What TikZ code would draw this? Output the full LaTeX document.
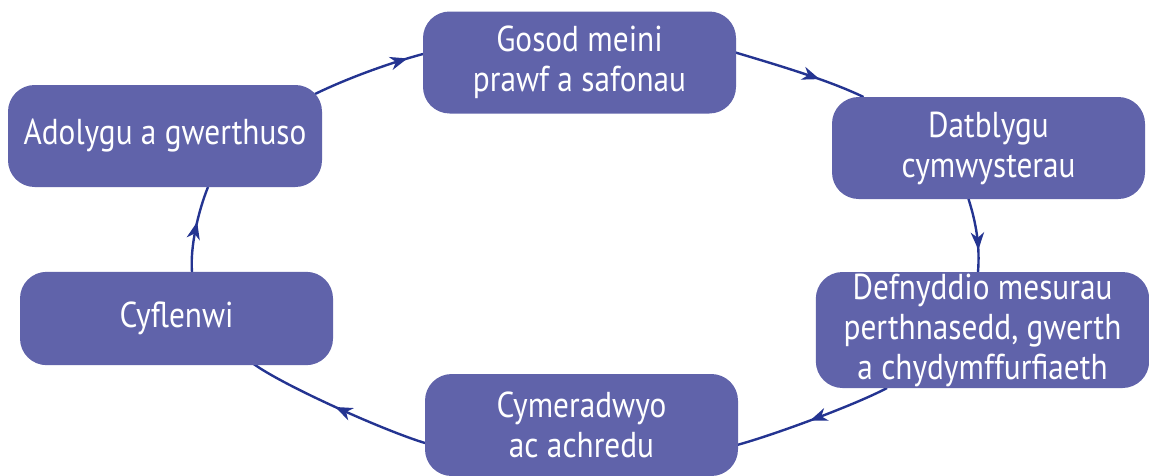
\documentclass[tikz,border=0pt]{standalone}
\usepackage{fontspec}
\newfontfamily\boxfont[FakeStretch=0.87]{PT Sans}
\usetikzlibrary{arrows.meta,decorations.markings}
\definecolor{boxfill}{RGB}{96,99,170}
\definecolor{linkcol}{RGB}{36,52,145}
\pgfdeclarelayer{bg}
\pgfsetlayers{bg,main}
\begin{document}
\begin{tikzpicture}[x=0.75pt,y=-0.75pt,
  stagebox/.style={rectangle, rounded corners=20pt, fill=boxfill, text=white,
    align=center, inner sep=0pt, font=\boxfont\fontsize{27}{30}\selectfont},
  link/.style={draw=linkcol, line width=1.8pt},
  midarrow/.style={postaction={decorate, decoration={markings,
    mark=at position #1 with {\arrow{Stealth[length=13pt,width=10pt,inset=4pt]}}}}}
]
\useasboundingbox (0,0) rectangle (1149,475);

\node[stagebox, minimum width=234.75pt, minimum height=76.5pt] (n1) at (579.5,62.5) {Gosod meini\\prawf a safonau};
\node[stagebox, minimum width=234.75pt, minimum height=76.5pt] (n2) at (988.5,148) {Datblygu\\cymwysterau};
\node[stagebox, minimum width=250pt, minimum height=87pt] (n3) at (982.5,330) {Defnyddio mesurau\\perthnasedd, gwerth\\a chydymffurfiaeth};
\node[stagebox, minimum width=234.75pt, minimum height=76.5pt] (n4) at (581.5,425) {Cymeradwyo\\ac achredu};
\node[stagebox, minimum width=234.75pt, minimum height=70pt] (n5) at (176.5,318.5) {Cyflenwi};
\node[stagebox, minimum width=235.5pt, minimum height=76.5pt] (n6) at (165,136) {Adolygu a gwerthuso};

\begin{pgfonlayer}{bg}
\draw[link, midarrow=0.65] ([shift={(156,-10)}]n1.center) .. controls +(40,12) and +(-35,-17) .. ([shift={(-125,-51)}]n2.center);
\draw[link, midarrow=0.7] ([shift={(-20,51)}]n2.center) .. controls +(8,25) and +(2,-25) .. ([shift={(-4.5,-58)}]n3.center);
\draw[link, midarrow=0.52] ([shift={(-95.5,58)}]n3.center) .. controls +(-30,16) and +(40,-11) .. ([shift={(155.5,20)}]n4.center);
\draw[link, midarrow=0.51] ([shift={(-156.5,18)}]n4.center) .. controls +(-40,-12) and +(30,22) .. ([shift={(76.5,45)}]n5.center);
\draw[link, midarrow=0.58] ([shift={(15.5,-46.5)}]n5.center) .. controls +(-2,-25) and +(-10,25) .. ([shift={(43,51)}]n6.center);
\draw[link, midarrow=0.86] ([shift={(150,-42)}]n6.center) .. controls +(35,-17) and +(-30,8) .. ([shift={(-156.5,-8.5)}]n1.center);
\end{pgfonlayer}
\end{tikzpicture}
\end{document}
